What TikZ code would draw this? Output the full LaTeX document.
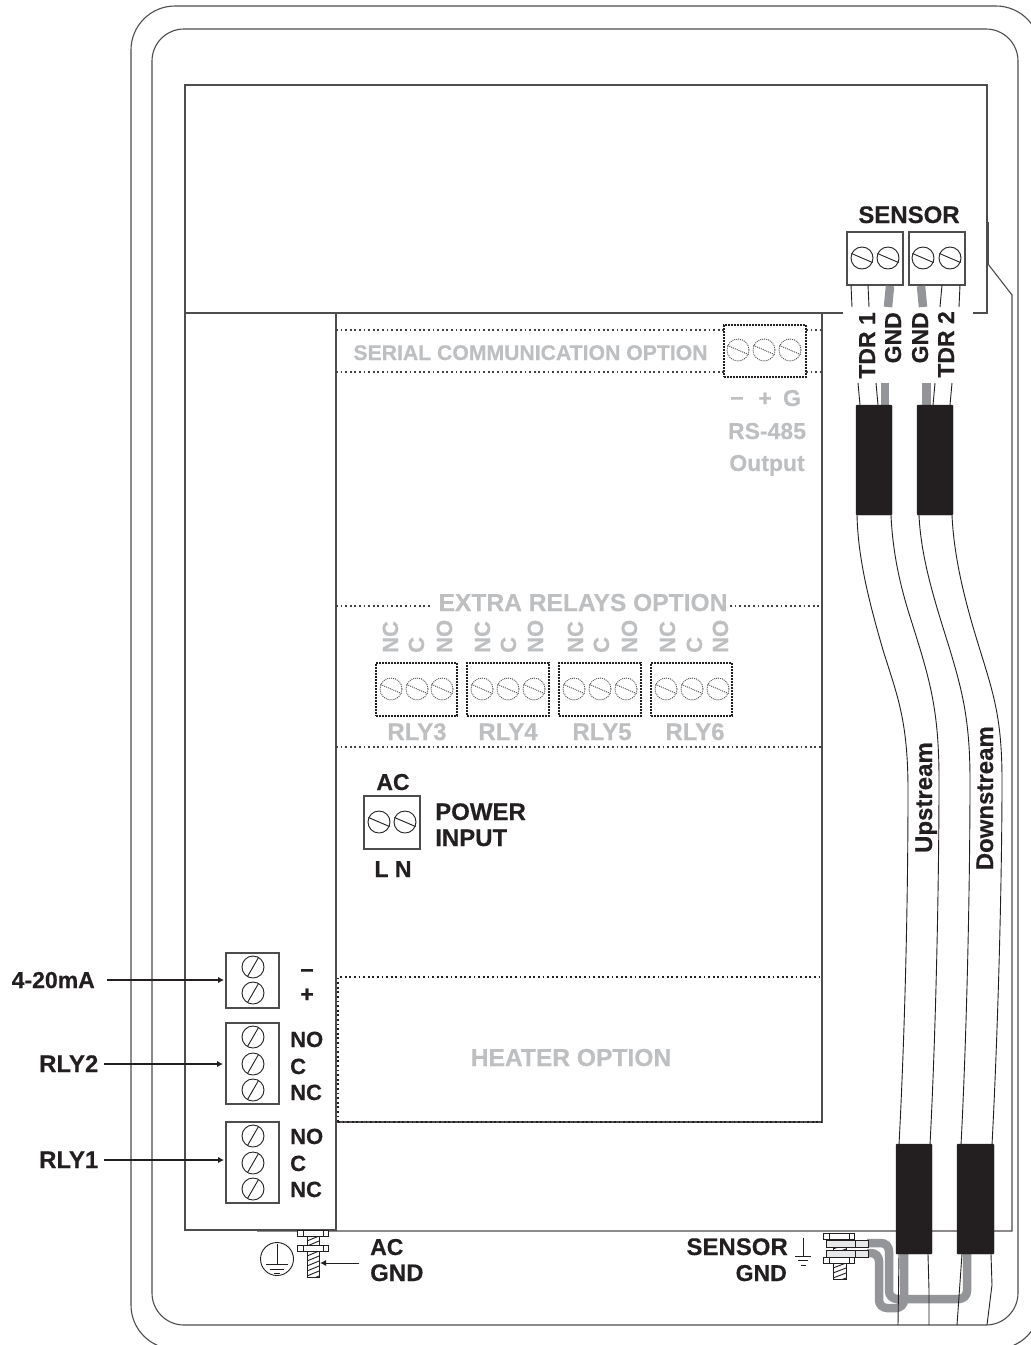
\documentclass[tikz,border=0pt]{standalone}
\usepackage{fontspec}
\setmainfont[BoldFeatures={FakeBold=0.35}]{Liberation Sans}
\usetikzlibrary{arrows.meta}
\definecolor{ink}{HTML}{231F20}
\definecolor{optgray}{HTML}{BDBFC1}
\definecolor{wiregray}{HTML}{939598}
\definecolor{luggray}{HTML}{E6E7E8}
\newcommand\fsz[1]{\fontsize{#1}{#1}\selectfont\bfseries}
\tikzset{
  frame/.style={draw=ink!80,line width=1.1pt},
  thinline/.style={draw=ink,line width=0.9pt},
  termbox/.style={draw=ink!80,line width=1.1pt,fill=white,inner sep=0pt},
  optbox/.style={draw=ink,line width=1.6pt,dash pattern=on 2pt off 1pt,inner sep=0pt},
  optline/.style={draw=ink!85,line width=1.4pt,dash pattern=on 1.8pt off 2.8pt},
  sleeve/.style={fill=ink,draw=ink,rounded corners=1pt},
  gwire/.style={draw=wiregray,line width=8.5pt,rounded corners=8pt},
  lug/.style={draw=ink,line width=0.9pt,fill=luggray},
  wash/.style={draw=ink,line width=0.9pt,fill=white},
  txt/.style={inner sep=0pt,text=ink,font=\fsz{23}},
  otxt/.style={inner sep=0pt,text=optgray,font=\fsz{23}},
  pointer/.style={draw=ink,line width=1.5pt,-{Latex[length=6pt,width=6.5pt]}}
}
\newcommand\screwH[2]{\draw[draw=ink,line width=0.9pt] (#1,#2) circle (11pt);
  \draw[draw=ink,line width=0.9pt] (#1-10.5,#2-4.5) -- (#1+10.5,#2+4.5);}
\newcommand\screwV[2]{\draw[draw=ink,line width=0.9pt] (#1,#2) circle (11pt);
  \draw[draw=ink,line width=0.9pt] (#1-5.5,#2+9.5) -- (#1+5.5,#2-9.5);}
\newcommand\screwO[2]{\draw[draw=ink!80,line width=0.9pt,dash pattern=on 1pt off 1pt] (#1,#2) circle (11pt);
  \draw[draw=ink!80,line width=0.9pt,dash pattern=on 1pt off 1pt] (#1-10.5,#2-4.5) -- (#1+10.5,#2+4.5);}
\newcommand\hatchbox[4]{\begin{scope}
  \clip (#1,#3) rectangle (#2,#4);
  \foreach \d in {0,5,...,60}{\draw[draw=ink,line width=0.9pt] (#1,#3+\d) -- (#2,#3+\d-5);}
  \end{scope}
  \draw[draw=ink,line width=0.9pt] (#1,#3) rectangle (#2,#4);}
\begin{document}
\begin{tikzpicture}[x=1pt,y=-1pt]
\useasboundingbox (0,0) rectangle (1031,1345);
\clip (0,0) rectangle (1031,1345);
\fill[white] (0,0) rectangle (1031,1345);

% enclosure
\draw[frame,rounded corners=44pt] (131,6) rectangle (1040,1349);
\draw[frame,rounded corners=32pt] (152,29) rectangle (1018,1325);

% sub panel outlines
\draw[frame] (185,1231) -- (185,85) -- (987,85) -- (987,313) -- (973,313);
\draw[frame,line width=1.5pt] (843,313) -- (185,313);
\draw[frame,line width=1.4pt] (185,1230) -- (336,1230) -- (336,313);
\draw[frame] (336,1122) -- (822,1122) -- (822,313);
\draw[frame] (257,1231) -- (1012,1231) -- (1012,295) -- (988,264) -- (988,222);
\draw[frame,line width=2pt] (988,222) -- (988,264);

% option dotted regions
\draw[optline] (336,330) -- (724,330) (806,330) -- (822,330);
\draw[optline] (336,372) -- (724,372) (806,372) -- (822,372);
\draw[optline] (336,606) -- (432,606) (730,606) -- (822,606);
\draw[optline] (336,747) -- (822,747);
\draw[optline,draw=ink,line width=1.6pt] (338,1122) -- (338,977) -- (822,977);
\draw[optline,draw=ink,line width=1.6pt] (338,1122) -- (822,1122);

\node[otxt,font=\fsz{21.2},anchor=base] (serial) at (530.5,360) {SERIAL COMMUNICATION OPTION};
\node[otxt,font=\fsz{24.6},anchor=base] (extra) at (583,611) {EXTRA RELAYS OPTION};
\node[otxt,font=\fsz{24.6},anchor=base] (heater) at (571,1066) {HEATER OPTION};

% RS-485 block
\node[optbox,minimum width=82pt,minimum height=52pt] (rs) at (765,351) {};
\screwO{738}{350}\screwO{764}{350}\screwO{790}{350}
\node[otxt,anchor=base] (rsm) at (737,406) {−};
\node[otxt,anchor=base] (rsp) at (765,406) {+};
\node[otxt,anchor=base] (rsg) at (792,406) {G};
\node[otxt,anchor=base] (rsa) at (767,439) {RS-485};
\node[otxt,anchor=base] (rsb) at (767,471) {Output};

% extra relays
\node[optbox,minimum width=81pt,minimum height=53pt] (r3) at (416.5,689.5) {};
\node[optbox,minimum width=82pt,minimum height=53pt] (r4) at (508,689.5) {};
\node[optbox,minimum width=82pt,minimum height=53pt] (r5) at (600,689.5) {};
\node[optbox,minimum width=81pt,minimum height=53pt] (r6) at (691.5,689.5) {};
\foreach \x in {391,417,442,482,508,534,574,600,626,666,692,718}{\screwO{\x}{689}}
\foreach \nm/\x/\lab in {a1/398/NC,a2/424/C,a3/452/NO,b1/490/NC,b2/516/C,b3/543/NO,c1/583/NC,c2/609/C,c3/637/NO,d1/675/NC,d2/702/C,d3/728/NO}{
  \node[otxt,font=\fsz{22},rotate=90,anchor=base west] (\nm) at (\x,653) {\lab};}
\node[otxt,font=\fsz{24},anchor=base] (l3) at (417,740) {RLY3};
\node[otxt,font=\fsz{24},anchor=base] (l4) at (508,740) {RLY4};
\node[otxt,font=\fsz{24},anchor=base] (l5) at (602,740) {RLY5};
\node[otxt,font=\fsz{24},anchor=base] (l6) at (695,740) {RLY6};

% power
\node[termbox,minimum width=56pt,minimum height=53pt] (pw) at (392,822.5) {};
\screwH{379}{822}\screwH{405}{822}
\node[txt,anchor=base] (pac) at (393,790) {AC};
\node[txt,font=\fsz{24},anchor=base west] (pwa) at (435,820) {POWER};
\node[txt,font=\fsz{24},anchor=base west] (pwb) at (435,846) {INPUT};
\node[txt,anchor=base] (pln) at (393,877) {L N};

% left terminals
\node[termbox,minimum width=53pt,minimum height=55pt] (t420) at (252.5,980.5) {};
\node[termbox,minimum width=53pt,minimum height=81pt] (trl2) at (252.5,1063.5) {};
\node[termbox,minimum width=53pt,minimum height=81pt] (trl1) at (252.5,1162.5) {};
\foreach \y in {967,993,1037,1064,1090,1136,1163,1189}{\screwV{253}{\y}}
\node[txt,anchor=base] (tm) at (307,978) {−};
\node[txt,anchor=base] (tp) at (307,1002) {+};
\foreach \nm/\y/\lab in {n1/1047/NO,n2/1074/C,n3/1100/NC,n4/1144/NO,n5/1171/C,n6/1197/NC}{
  \node[txt,font=\fsz{22},anchor=base west] (\nm) at (290,\y) {\lab};}
\node[txt,anchor=base east] (la) at (95,988) {4-20mA};
\node[txt,font=\fsz{24},anchor=base east] (lb) at (98.5,1072) {RLY2};
\node[txt,font=\fsz{24},anchor=base east] (lc) at (98.5,1168) {RLY1};
\coordinate (a420) at (224,980);
\coordinate (arl2) at (223,1064);
\coordinate (arl1) at (224,1160);
\draw[pointer] (107,980) -- (a420);
\draw[pointer] (104,1064) -- (arl2);
\draw[pointer] (104,1160) -- (arl1);

% AC GND
\draw[wash] (297,1230) rectangle (328,1236);
\draw[thinline] (303,1230) -- (303,1236) (323,1230) -- (323,1236);
\hatchbox{307}{319}{1236}{1277}
\draw[wash] (297,1245) rectangle (328,1251);
\draw[thinline] (303,1245) -- (303,1251) (323,1245) -- (323,1251);
\coordinate (boltac) at (320,1263);
\draw[thinline] (277,1259) circle (16.5pt);
\draw[thinline] (277,1244) -- (277,1264) (266,1264) -- (288,1264) (270,1269) -- (284,1269) (274,1273) -- (280,1273);
\node[txt,anchor=base west] (aca) at (370,1255) {AC};
\node[txt,font=\fsz{24},anchor=base west] (acb) at (370,1281) {GND};
\draw[draw=ink,line width=1pt,-{Latex[length=6pt,width=6pt]}] (359,1263) -- (boltac);

% sensor terminals
\node[txt,font=\fsz{24},anchor=base] (sens) at (909,223) {SENSOR};
\node[termbox,minimum width=56pt,minimum height=53pt] (s1) at (875,258.5) {};
\node[termbox,minimum width=56pt,minimum height=53pt] (s2) at (937,258.5) {};
\screwH{862}{258}\screwH{888}{258}\screwH{923}{258}\screwH{950}{258}
\draw[thinline] (851,285) -- (852,307) (868,285) -- (869,307) (942,285) -- (940,307) (960,285) -- (959,307);
\draw[draw=wiregray,line width=8.5pt] (890,286) -- (888,307) (921,286) -- (923,307);
\node[txt,rotate=90,anchor=base east] (v1) at (875,312) {TDR 1};
\node[txt,rotate=90,anchor=base east] (v2) at (901,312) {GND};
\node[txt,rotate=90,anchor=base east] (v3) at (928,312) {GND};
\node[txt,rotate=90,anchor=base east] (v4) at (954,311) {TDR 2};
\draw[thinline] (858,383) -- (860,405) (876,383) -- (878,405) (935,383) -- (933,405) (952,383) -- (950,405);
\draw[draw=wiregray,line width=8.5pt] (885,383) -- (885,405) (926.5,383) -- (926.5,405);

% grey ground wires, under the cable lines
\draw[gwire] (867,1243) -- (889,1243) -- (889,1299) -- (967,1299) -- (967,1252);
\draw[gwire] (867,1253) -- (879,1253) -- (879,1308) -- (904,1308) -- (904,1252);
\draw[draw=wiregray,line width=8.5pt] (904,1300) -- (904,1254);

% cables
\draw[thinline] (857,515) .. controls (858,560) and (870,605) .. (883,650) .. controls (897,695) and (908,720) .. (908,790) .. controls (908,900) and (905,1030) .. (899,1145);
\draw[thinline] (891,515) .. controls (893,560) and (903,595) .. (912,623) .. controls (930,680) and (939,710) .. (939,780) .. controls (939,880) and (936,1030) .. (930,1145);
\draw[thinline] (919,515) .. controls (921,560) and (936,605) .. (950,650) .. controls (962,690) and (970,720) .. (970,780) .. controls (970,880) and (967,1030) .. (961,1145);
\draw[thinline] (952,515) .. controls (954,560) and (966,605) .. (980,650) .. controls (994,695) and (1002,720) .. (1002,780) .. controls (1002,880) and (998,1030) .. (992,1145);
\draw[thinline] (899,1254) -- (898,1325) (928,1254) -- (929,1290) -- (929,1325) (962,1254) -- (957,1325) (991,1254) -- (992,1285) -- (987,1325);
\node[txt,font=\fsz{24},rotate=90,anchor=base east] (up) at (932,742) {Upstream};
\node[txt,font=\fsz{24},rotate=90,anchor=base east] (down) at (993,726) {Downstream};

% sleeves
\draw[sleeve] (856,405) rectangle (892,515);
\draw[sleeve] (917,405) rectangle (953,515);
\draw[sleeve] (896,1144) rectangle (932,1254);
\draw[sleeve] (957,1144) rectangle (994,1254);

% sensor ground bolt
\hatchbox{833}{846}{1263}{1279}
\draw[wash] (823,1233) rectangle (854,1239);
\draw[thinline] (829,1233) -- (829,1239) (849,1233) -- (849,1239);
\hatchbox{833}{846}{1239}{1257}
\draw[lug] (826,1240) rectangle (868,1247);
\draw[lug] (826,1250) rectangle (868,1257);
\draw[thinline] (855,1240) -- (855,1247) (855,1250) -- (855,1257);
\draw[wash] (823,1257) rectangle (854,1263);
\draw[thinline] (829,1257) -- (829,1263) (849,1257) -- (849,1263);
\node[txt,font=\fsz{24},anchor=base east] (sg1) at (788,1255) {SENSOR};
\node[txt,anchor=base east] (sg2) at (787,1281) {GND};
\draw[thinline] (803,1238) -- (803,1256) (795,1256) -- (811,1256) (798,1260) -- (808,1260) (801,1265) -- (806,1265);
\end{tikzpicture}
\end{document}
